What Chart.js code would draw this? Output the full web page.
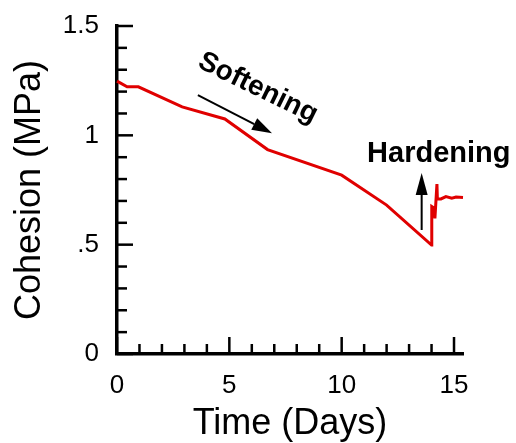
<!DOCTYPE html>
<html>
<head>
<meta charset="utf-8">
<script src="https://cdn.jsdelivr.net/npm/chart.js@4/dist/chart.umd.min.js"></script>
<style>
  html, body { margin: 0; padding: 0; background: #ffffff; }
  canvas { display: block; }
</style>
</head>
<body>
<canvas id="c" width="516" height="443"></canvas>
<script>
// ---- data ----
const timeDays    = [0, 0.45, 0.95, 2.9, 4.8, 6.7, 10.0, 12.0, 14.0, 14.01, 14.1, 14.15, 14.24, 14.26, 14.42, 14.64, 14.9, 15.09, 15.4];
const cohesionMPa = [1.248, 1.222, 1.222, 1.13, 1.075, 0.935, 0.818, 0.681, 0.498, 0.674, 0.668, 0.62, 0.777, 0.709, 0.709, 0.72, 0.713, 0.718, 0.716];

const xMajorTicks = [0, 5, 10, 15];
const xTickLabels = ['0', '5', '10', '15'];
const xMinorTicks = [1, 2, 3, 4, 6, 7, 8, 9, 11, 12, 13, 14];
const yMajorTicks = [0, 0.5, 1, 1.5];
const yTickLabels = ['0', '.5', '1', '1.5'];
const yMinorTicks = [0.1, 0.2, 0.3, 0.4, 0.6, 0.7, 0.8, 0.9, 1.1, 1.2, 1.3, 1.4];

const xTitle = 'Time (Days)';
const yTitle = 'Cohesion (MPa)';
const softeningLabel = 'Softening';
const hardeningLabel = 'Hardening';

const FONT = "'Liberation Sans', Arial, Helvetica, sans-serif";

const innerTicks = {
  id: 'innerTicks',
  afterDatasetsDraw(chart) {
    const {ctx, chartArea, scales: {x, y}} = chart;
    ctx.save();
    ctx.strokeStyle = '#000';
    ctx.lineWidth = 2.5;
    ctx.lineCap = 'butt';
    const b = chartArea.bottom, l = chartArea.left;
    const drawX = (vals, len) => vals.forEach(v => {
      const px = x.getPixelForValue(v);
      ctx.beginPath(); ctx.moveTo(px, b); ctx.lineTo(px, b - len); ctx.stroke();
    });
    const drawY = (vals, len) => vals.forEach(v => {
      const py = y.getPixelForValue(v);
      ctx.beginPath(); ctx.moveTo(l, py); ctx.lineTo(l + len, py); ctx.stroke();
    });
    drawX(xMinorTicks, 10); drawX(xMajorTicks, 17);
    drawY(yMinorTicks, 10); drawY(yMajorTicks, 16);
    ctx.restore();
  }
};

function arrow(ctx, x1, y1, x2, y2, headLen, headW) {
  const ang = Math.atan2(y2 - y1, x2 - x1);
  const bx = x2 - headLen * Math.cos(ang), by = y2 - headLen * Math.sin(ang);
  ctx.beginPath(); ctx.moveTo(x1, y1); ctx.lineTo(bx, by); ctx.stroke();
  ctx.beginPath();
  ctx.moveTo(x2, y2);
  ctx.lineTo(bx + headW / 2 * Math.sin(ang), by - headW / 2 * Math.cos(ang));
  ctx.lineTo(bx - headW / 2 * Math.sin(ang), by + headW / 2 * Math.cos(ang));
  ctx.closePath(); ctx.fill();
}

const annotations = {
  id: 'annotations',
  afterDatasetsDraw(chart) {
    const {ctx, scales: {x, y}} = chart;
    ctx.save();
    ctx.fillStyle = '#000';
    ctx.strokeStyle = '#000';
    ctx.lineWidth = 2;
    // Softening label (rotated)
    ctx.save();
    ctx.translate(x.getPixelForValue(6.27), y.getPixelForValue(1.216));
    ctx.rotate(26 * Math.PI / 180);
    ctx.font = 'bold 28px ' + FONT;
    ctx.textAlign = 'center';
    ctx.textBaseline = 'middle';
    ctx.fillText(softeningLabel, 0, 0);
    ctx.restore();
    arrow(ctx, x.getPixelForValue(3.6), y.getPixelForValue(1.184),
               x.getPixelForValue(6.9), y.getPixelForValue(1.010), 20, 13);
    // Hardening label
    ctx.font = 'bold 29px ' + FONT;
    ctx.textAlign = 'left';
    ctx.textBaseline = 'alphabetic';
    ctx.fillText(hardeningLabel, x.getPixelForValue(11.13), y.getPixelForValue(0.878));
    arrow(ctx, x.getPixelForValue(13.56), y.getPixelForValue(0.567),
               x.getPixelForValue(13.56), y.getPixelForValue(0.828), 22, 12);
    ctx.restore();
  }
};

const noPad = s => { s.paddingTop = 0; s.paddingBottom = 0; s.paddingLeft = 0; s.paddingRight = 0; };

new Chart(document.getElementById('c'), {
  type: 'line',
  data: {
    datasets: [{
      data: timeDays.map((t, i) => ({x: t, y: cohesionMPa[i]})),
      borderColor: '#e00000',
      borderWidth: 3,
      pointRadius: 0,
      tension: 0,
      fill: false,
      clip: false
    }]
  },
  options: {
    responsive: false,
    animation: false,
    devicePixelRatio: 1,
    layout: { padding: { top: 26, right: 53, left: 0, bottom: 0 } },
    plugins: { legend: { display: false }, tooltip: { enabled: false } },
    scales: {
      x: {
        type: 'linear',
        min: 0, max: 15.4,
        afterBuildTicks: s => { s.ticks = xMajorTicks.map(v => ({value: v})); },
        afterFit: s => { s.height = 89; noPad(s); },
        grid: { display: false, drawTicks: false },
        border: { display: true, width: 3.5, color: '#000' },
        ticks: {
          padding: 16,
          color: '#000',
          font: { family: FONT, size: 26 },
          maxRotation: 0,
          callback: (v) => xTickLabels[xMajorTicks.indexOf(v)]
        },
        title: {
          display: true, text: xTitle, color: '#000',
          font: { family: FONT, size: 36, lineHeight: 1 },
          padding: { top: 0, bottom: 1 }
        }
      },
      y: {
        type: 'linear',
        min: 0, max: 1.5,
        afterBuildTicks: s => { s.ticks = yMajorTicks.map(v => ({value: v})); },
        afterFit: s => { s.width = 117; noPad(s); },
        grid: { display: false, drawTicks: false },
        border: { display: true, width: 3.5, color: '#000' },
        ticks: {
          padding: 18,
          color: '#000',
          font: { family: FONT, size: 26 },
          callback: (v) => yTickLabels[yMajorTicks.indexOf(v)]
        },
        title: {
          display: true, text: yTitle, color: '#000',
          font: { family: FONT, size: 36, lineHeight: 1 },
          padding: { top: 12, bottom: 0 }
        }
      }
    }
  },
  plugins: [innerTicks, annotations]
});
</script>
</body>
</html>
